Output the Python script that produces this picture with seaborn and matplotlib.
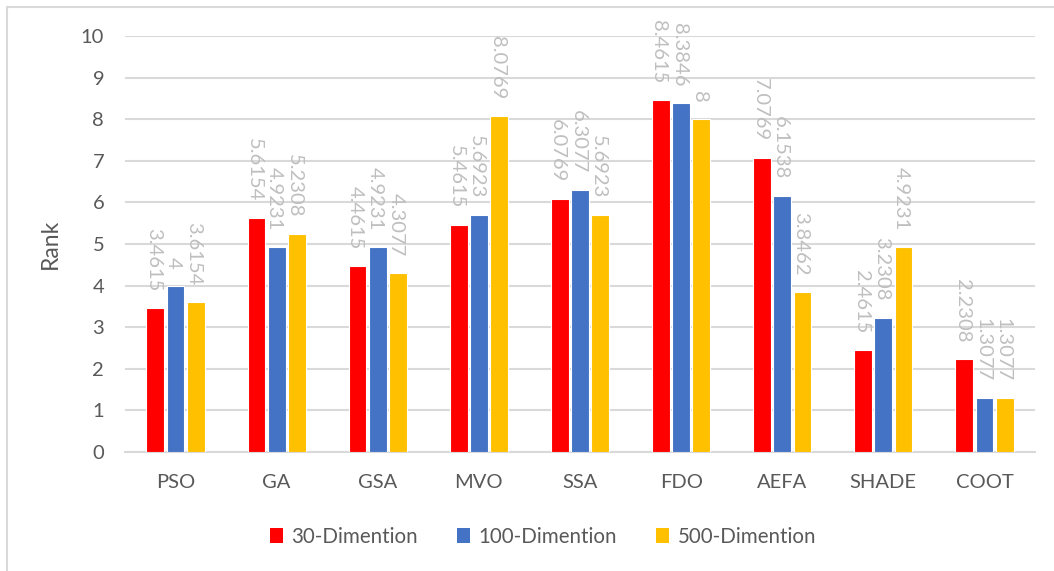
import matplotlib
matplotlib.use("Agg")
import matplotlib.pyplot as plt
import seaborn as sns
import pandas as pd
from matplotlib.lines import Line2D
from matplotlib.patches import Patch

algorithms = ["PSO", "GA", "GSA", "MVO", "SSA", "FDO", "AEFA", "SHADE", "COOT"]
dim30 = [3.4615, 5.6154, 4.4615, 5.4615, 6.0769, 8.4615, 7.0769, 2.4615, 2.2308]
dim100 = [4, 4.9231, 4.9231, 5.6923, 6.3077, 8.3846, 6.1538, 3.2308, 1.3077]
dim500 = [3.6154, 5.2308, 4.3077, 8.0769, 5.6923, 8, 3.8462, 4.9231, 1.3077]
series_names = ["30-Dimention", "100-Dimention", "500-Dimention"]
label_text = {
    "30-Dimention": ["3.4615", "5.6154", "4.4615", "5.4615", "6.0769", "8.4615", "7.0769", "2.4615", "2.2308"],
    "100-Dimention": ["4", "4.9231", "4.9231", "5.6923", "6.3077", "8.3846", "6.1538", "3.2308", "1.3077"],
    "500-Dimention": ["3.6154", "5.2308", "4.3077", "8.0769", "5.6923", "8", "3.8462", "4.9231", "1.3077"],
}
colors = ["#FF0000", "#4472C4", "#FFC000"]

df = pd.DataFrame({
    "Algorithm": algorithms * 3,
    "Series": [series_names[0]] * 9 + [series_names[1]] * 9 + [series_names[2]] * 9,
    "Rank": dim30 + dim100 + dim500,
})

sns.set_theme(style="white")
plt.rcParams["font.family"] = ["Lato", "DejaVu Sans"]

fig = plt.figure(figsize=(10.54, 5.71), dpi=100)
ax = fig.add_axes([0.1186, 0.2084, 0.8634, 0.7286])

sns.barplot(data=df, x="Algorithm", y="Rank", hue="Series", order=algorithms,
            hue_order=series_names, palette=colors, saturation=1, width=0.6, gap=0.12,
            edgecolor="white", linewidth=0.8, ax=ax, legend=False, zorder=3)

for cont, name in zip(ax.containers, series_names):
    texts = ax.bar_label(cont, labels=label_text[name], rotation=270, padding=12,
                         color="#BFBFBF", fontsize=14.5)
    for t in texts:
        t.set_position((-1.5, 12))

ax.set_ylim(0, 10)
ax.set_xlim(-0.5, 8.5)
ax.set_yticks(range(0, 11))
ax.yaxis.grid(True, color="#D9D9D9", linewidth=1.5, zorder=0)
ax.set_axisbelow(True)
for s in ["top", "right", "left"]:
    ax.spines[s].set_visible(False)
ax.spines["bottom"].set_color("#D9D9D9")
ax.spines["bottom"].set_linewidth(1.5)
ax.tick_params(axis="both", length=0, labelsize=14.5, colors="#595959")
ax.tick_params(axis="x", pad=16)
ax.tick_params(axis="y", pad=15)
ax.set_xlabel("")
ax.set_ylabel("Rank", fontsize=16.5, color="#595959", labelpad=14)

handles = [Patch(facecolor=c, edgecolor="none") for c in colors]
fig.legend(handles, series_names, loc="center", bbox_to_anchor=(0.515, 0.06),
           ncol=3, frameon=False, fontsize=14.8, handlelength=0.65, handleheight=0.75,
           handletextpad=0.4, columnspacing=1.9, labelcolor="#595959")

# chart border (top and left visible)
fig.add_artist(Line2D([7 / 1054, 7 / 1054], [0, 1 - 7 / 571], transform=fig.transFigure,
                      color="#D9D9D9", lw=1.5))
fig.add_artist(Line2D([7 / 1054, 1], [1 - 7 / 571, 1 - 7 / 571], transform=fig.transFigure,
                      color="#D9D9D9", lw=1.5))

fig.savefig("out.png", dpi=100)
